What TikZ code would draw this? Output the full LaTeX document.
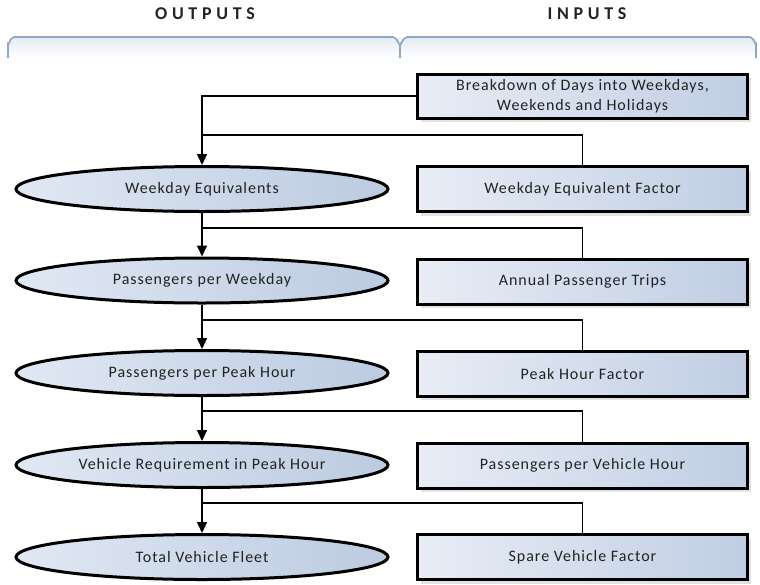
\documentclass[tikz,border=0pt]{standalone}
\usepackage{fontspec}
\setmainfont{Carlito}
\usetikzlibrary{arrows.meta,shapes.geometric,shadows}
\definecolor{fillL}{HTML}{E8EDF6}
\definecolor{fillR}{HTML}{C0CEE3}
\definecolor{ellL}{HTML}{E0E8F3}
\definecolor{ellR}{HTML}{BCCBE1}
\definecolor{brk}{HTML}{8FA8C2}
\definecolor{brkfill}{HTML}{E6ECF3}
\definecolor{txtc}{HTML}{222222}
\begin{document}
\begin{tikzpicture}[x=1pt,y=-1pt,
  txt/.style={text=txtc,font=\fontsize{16}{20}\selectfont\addfontfeature{LetterSpace=6}},
  outnode/.style={ellipse,draw=black,line width=3pt,minimum width=372pt,minimum height=45pt,inner sep=0pt,left color=ellL,right color=ellR,txt},
  innode/.style={rectangle,draw=black,line width=3pt,minimum width=330pt,minimum height=45pt,inner sep=0pt,left color=fillL,right color=fillR,align=center,txt,
    drop shadow={shadow xshift=3pt,shadow yshift=-4pt,opacity=0.22,fill=gray}},
  head/.style={text=txtc,font=\fontsize{18}{20}\selectfont\bfseries\addfontfeature{LetterSpace=26}},
  conn/.style={line width=1.6pt,draw=black},
  arr/.style={conn,-{Triangle[length=11pt,width=10pt]}},
  bracket/.style={draw=brk,line width=1.6pt}
]
\useasboundingbox (0,0) rectangle (760,584);
% headers
\node[head] (hout) at (205,14) {OUTPUTS};
\node[head] (hin) at (587,14) {INPUTS};
% bracket
\shade[top color=brkfill,bottom color=white] (9,38) rectangle (399,58);
\shade[top color=brkfill,bottom color=white] (401,38) rectangle (756,58);
\draw[bracket] (8,58) -- (8,44) to[out=-90,in=180] (14,37) -- (393,37) to[out=0,in=-90] (400,44) -- (400,58);
\draw[bracket] (400,44) to[out=-90,in=180] (407,37) -- (750,37) to[out=0,in=-90] (756,44) -- (756,58);
% inputs
\node[innode,minimum height=44pt] (b1) at (582.5,96) {Breakdown of Days into Weekdays,\\Weekends and Holidays};
\node[innode] (b2) at (582.5,189) {Weekday Equivalent Factor};
\node[innode] (b3) at (582.5,281.5) {Annual Passenger Trips};
\node[innode] (b4) at (582.5,373.5) {Peak Hour Factor};
\node[innode] (b5) at (582.5,465.5) {Passengers per Vehicle Hour};
\node[innode] (b6) at (582.5,557) {Spare Vehicle Factor};
% outputs
\node[outnode] (e1) at (202,189) {Weekday Equivalents};
\node[outnode] (e2) at (202,280.5) {Passengers per Weekday};
\node[outnode] (e3) at (202,373) {Passengers per Peak Hour};
\node[outnode] (e4) at (202,465) {Vehicle Requirement in Peak Hour};
\node[outnode] (e5) at (202,557) {Total Vehicle Fleet};
% junctions
\coordinate (m1) at (e1.north |- 0,135);
\coordinate (m2) at (e1.north |- 0,228);
\coordinate (m3) at (e1.north |- 0,320);
\coordinate (m4) at (e1.north |- 0,411);
\coordinate (m5) at (e1.north |- 0,503);
% connectors
\draw[arr] (b1.west) -| (e1.north);
\draw[conn] (b2.north) |- (m1);
\draw[arr] (e1.south) -- (e2.north);
\draw[conn] (b3.north) |- (m2);
\draw[arr] (e2.south) -- (e3.north);
\draw[conn] (b4.north) |- (m3);
\draw[arr] (e3.south) -- (e4.north);
\draw[conn] (b5.north) |- (m4);
\draw[arr] (e4.south) -- (e5.north);
\draw[conn] (b6.north) |- (m5);
\end{tikzpicture}
\end{document}
